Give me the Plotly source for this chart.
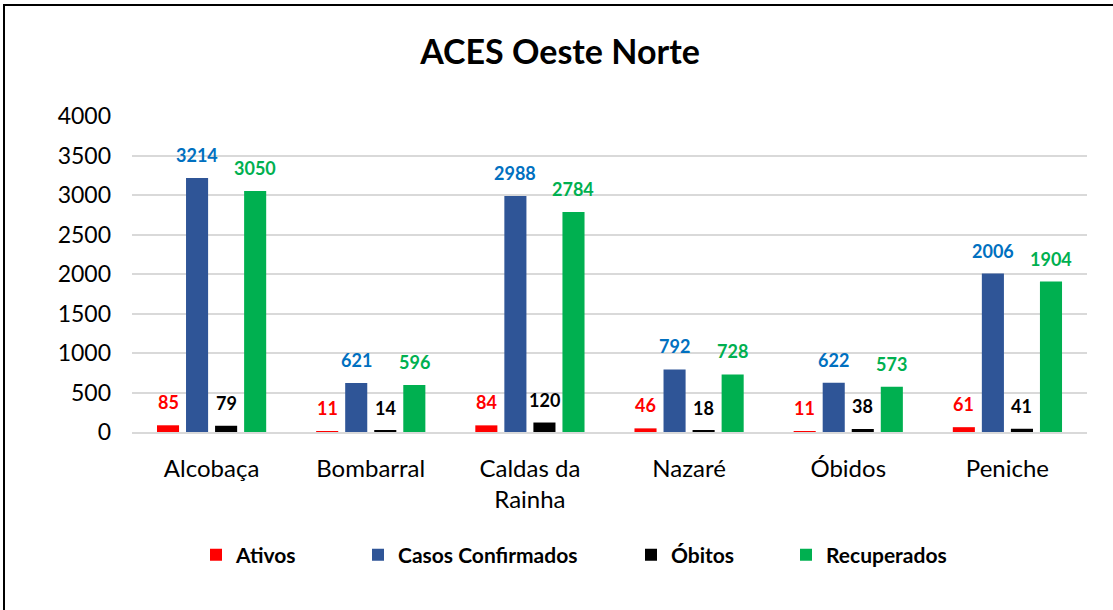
import plotly.graph_objects as go

categories = ["Alcobaça", "Bombarral", "Caldas da<br>Rainha", "Nazaré", "Óbidos", "Peniche"]
ativos = [85, 11, 84, 46, 11, 61]
confirmados = [3214, 621, 2988, 792, 622, 2006]
obitos = [79, 14, 120, 18, 38, 41]
recuperados = [3050, 596, 2784, 728, 573, 1904]

series_names = ["Ativos", "Casos Confirmados", "Óbitos", "Recuperados"]
series_values = [ativos, confirmados, obitos, recuperados]
bar_colors = ["#FF0000", "#2F5597", "#000000", "#00B050"]
label_colors = ["#FF0000", "#0070C0", "#000000", "#00B050"]

FONT = "Lato, Calibri, sans-serif"

W, H = 1113, 610
L, R, T, B = 132, 26, 116, 178
pw, ph = W - L - R, H - T - B
BARGAP = 0.27
slot = pw / len(categories) * (1 - BARGAP) / len(series_names)

# legend marker centres (px) for each series
legend_centers = [219, 381, 654, 809]

fig = go.Figure()
annotations = []
legends = {}
for i, (name, vals, col, tcol) in enumerate(zip(series_names, series_values, bar_colors, label_colors)):
    lg = "legend" if i == 0 else f"legend{i + 1}"
    fig.add_trace(go.Bar(
        name=name, x=categories, y=vals,
        marker=dict(color=col, line=dict(width=0)),
        legend=lg, showlegend=True,
    ))
    legends[lg] = dict(
        orientation="h", x=(legend_centers[i] - 23 - L) / pw, xanchor="left",
        y=(432 - 555) / ph, yanchor="middle", bgcolor="rgba(0,0,0,0)",
        font=dict(family=FONT, size=21, color="#000000", weight="bold"),
        itemwidth=30, visible=True,
    )
    xshift = (i - (len(series_names) - 1) / 2) * slot
    for c, v in zip(categories, vals):
        annotations.append(dict(
            x=c, y=v, xref="x", yref="y", text=f"<b>{v}</b>", showarrow=False,
            xshift=xshift, yshift=23, yanchor="middle", xanchor="center",
            font=dict(family=FONT, size=18, color=tcol),
        ))

fig.update_layout(
    width=W, height=H,
    showlegend=True,
    margin=dict(l=L, r=R, t=T, b=B, autoexpand=False),
    paper_bgcolor="white", plot_bgcolor="white",
    barmode="group", bargap=BARGAP, bargroupgap=0.24,
    font=dict(family=FONT, color="#000000"),
    title=dict(text="<b>ACES Oeste Norte</b>", x=560 / W, xanchor="center",
               y=1 - 52 / H, yanchor="middle", yref="container",
               font=dict(family=FONT, size=34, color="#000000")),
    xaxis=dict(showline=True, linecolor="#D9D9D9", linewidth=1.5, ticks="",
               tickfont=dict(size=24, color="#000000"), ticklabelstandoff=14,
               showgrid=False),
    yaxis=dict(range=[0, 4000], dtick=500, showgrid=True, gridcolor="#D9D9D9",
               gridwidth=1.5, zeroline=False, tickfont=dict(size=23, color="#000000"),
               ticklabelstandoff=20, showline=False),
    annotations=annotations,
    shapes=[dict(type="rect", xref="paper", yref="paper",
                 x0=(4 - L) / pw, x1=(W + 20 - L) / pw,
                 y0=(432 - (H + 20)) / ph, y1=(432 - 5) / ph,
                 line=dict(color="#000000", width=2), fillcolor="rgba(0,0,0,0)",
                 layer="below")],
    **legends,
)

fig.write_html("out.html", config={"displayModeBar": False},
               post_script="document.body.style.margin='0';")
